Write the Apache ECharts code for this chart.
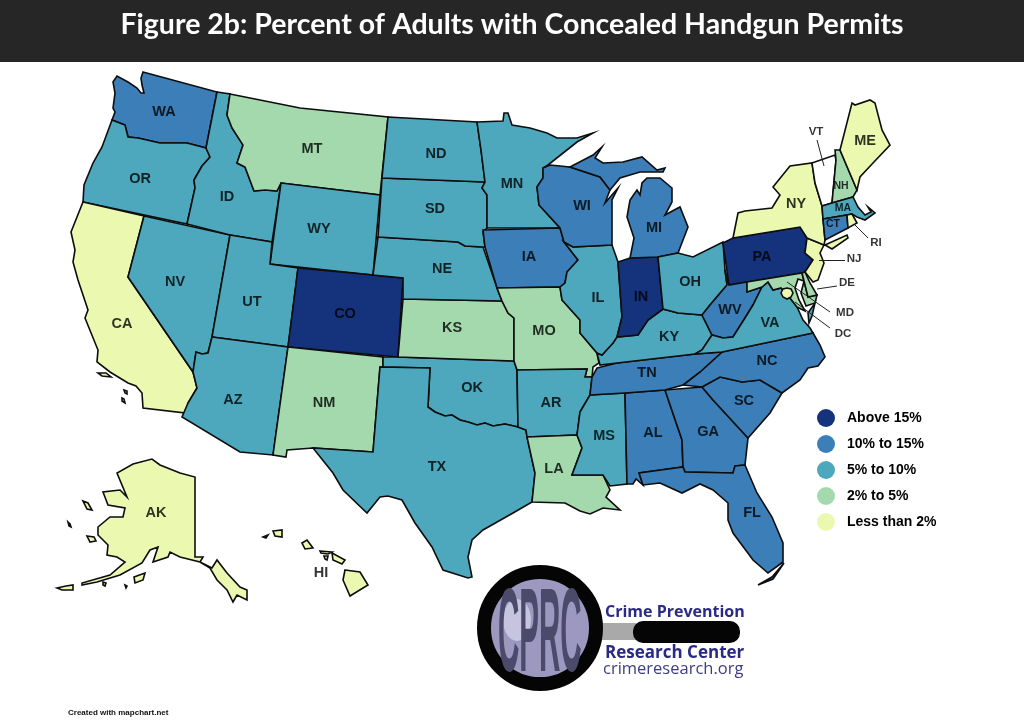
<!DOCTYPE html>
<html>
<head>
<meta charset="utf-8">
<style>html,body{margin:0;padding:0;background:#fff}#main{width:1024px;height:722px}</style>
<script src="https://cdn.jsdelivr.net/npm/echarts@6/dist/echarts.min.js"></script>
</head>
<body>
<div id="main"></div>
<script>
// permit classes
const above15 = ['CO', 'IN', 'PA'];
const from10to15 = ['WA', 'WI', 'IA', 'MI', 'WV', 'TN', 'NC', 'SC', 'GA', 'AL', 'FL', 'CT'];
const from5to10 = ['OR', 'ID', 'NV', 'UT', 'AZ', 'WY', 'ND', 'SD', 'NE', 'MN', 'OK', 'TX', 'AR', 'MS', 'IL', 'OH', 'KY', 'VA', 'MA'];
const from2to5 = ['MT', 'NM', 'KS', 'MO', 'LA', 'NH', 'MD', 'DE'];
const under2 = ['CA', 'AK', 'HI', 'NY', 'ME', 'NJ', 'RI', 'DC'];
const classLabels = ['Above 15%', '10% to 15%', '5% to 10%', '2% to 5%', 'Less than 2%'];
const classColors = ['#15327c', '#3b7eb8', '#4da8bd', '#a4d9ad', '#ebf8b0'];

// state outlines
const redRiver = [[518,427],[505,424],[493,426],[485,423],[477,425],[468,422],[460,420],[452,415],[445,416],[435,412],[428,407]];
const outlines = {
  WA: [[[143,72],[217,92],[206,148],[187,143],[160,143],[138,138],[128,137],[125,125],[112,120],[115,112],[113,108],[115,93],[113,82],[117,76],[128,82],[137,88],[141,93],[144,93],[142,85],[141,78]]],
  OR: [[[112,120],[125,125],[128,137],[138,138],[160,143],[187,143],[206,148],[210,157],[202,166],[194,180],[195,188],[187,224],[83,202],[84,185],[93,163],[102,147]]],
  CA: [[[83,202],[144,216],[128,277],[193,372],[197,388],[188,403],[186,413],[143,408],[142,393],[136,386],[128,383],[110,372],[97,362],[98,350],[85,318],[88,310],[78,280],[73,262],[75,250],[71,232]],
       [[98,373],[106,373],[111,377],[102,376]],[[124,390],[127,391],[127,394],[125,393]],[[122,398],[124,399],[125,403],[122,401]]],
  NV: [[[144,216],[230,235],[212,337],[208,353],[202,354],[196,352],[193,372],[128,277]]],
  ID: [[[217,92],[230,94],[227,115],[232,128],[243,145],[237,163],[245,167],[254,191],[265,190],[277,191],[281,183],[272,242],[230,235],[187,224],[195,188],[194,180],[202,166],[210,157],[206,148]]],
  MT: [[[230,94],[300,108],[388,117],[380,195],[281,183],[277,191],[265,190],[254,191],[245,167],[237,163],[243,145],[232,128],[227,115]]],
  WY: [[[281,183],[380,195],[373,275],[270,264]]],
  UT: [[[230,235],[272,242],[270,264],[298,268],[288,347],[212,337]]],
  CO: [[[298,268],[373,275],[403,278],[398,357],[288,347]]],
  AZ: [[[212,337],[288,347],[273,455],[240,452],[182,417],[188,403],[197,388],[193,372],[196,352],[202,354],[208,353]]],
  NM: [[[288,347],[383,357],[383,367],[380,367],[373,452],[313,448],[287,450],[286,457],[273,455]]],
  OK: [[[383,357],[398,357],[514,361],[517,370]].concat(redRiver, [[430,368],[383,367]])],
  TX: [[[380,367],[430,368]].concat(redRiver.slice().reverse(), [[526,430],[527,437],[535,473],[532,502],[513,513],[483,530],[472,540],[468,557],[472,577],[468,578],[443,570],[432,547],[415,523],[402,500],[388,496],[380,497],[367,513],[343,490],[333,473],[313,448],[373,452]])],
  KS: [[[403,299],[502,301],[508,313],[514,318],[514,361],[398,357]]],
  NE: [[[378,237],[458,242],[465,246],[483,247],[497,288],[502,301],[403,299],[403,278],[373,275]]],
  SD: [[[382,178],[485,182],[482,188],[487,195],[487,228],[483,232],[485,247],[483,247],[465,246],[458,242],[378,237]]],
  ND: [[[388,117],[477,122],[481,150],[485,182],[382,178]]],
  MN: [[[477,122],[503,121],[504,113],[508,113],[512,125],[530,128],[547,133],[557,138],[577,138],[593,133],[577,142],[548,165],[543,168],[543,178],[537,187],[539,205],[560,228],[487,228],[487,195],[482,188],[485,182],[481,150]]],
  IA: [[[483,230],[560,228],[564,242],[578,260],[567,272],[565,283],[560,287],[497,288],[485,247]]],
  MO: [[[497,288],[560,287],[562,300],[580,320],[580,333],[597,353],[599,363],[593,367],[592,377],[585,377],[587,369],[517,370],[514,361],[514,318],[508,313],[502,301]]],
  AR: [[[517,370],[587,369],[585,377],[592,377],[590,395],[580,412],[577,435],[527,437],[526,430],[518,427]]],
  LA: [[[527,437],[577,435],[582,448],[572,475],[603,475],[610,490],[606,497],[620,510],[603,508],[590,514],[580,511],[565,503],[532,502],[535,473]]],
  MS: [[[590,395],[625,393],[627,484],[610,486],[603,475],[572,475],[582,448],[577,435],[580,412]]],
  AL: [[[625,393],[665,390],[682,440],[683,467],[639,473],[643,485],[636,479],[633,484],[627,484]]],
  GA: [[[665,390],[702,387],[713,400],[748,438],[745,465],[735,466],[733,473],[685,472],[683,467],[682,440]]],
  FL: [[[639,473],[683,467],[685,472],[733,473],[735,466],[745,465],[757,493],[772,517],[783,543],[783,562],[768,573],[753,560],[733,533],[728,520],[728,503],[713,490],[700,484],[682,493],[660,483],[643,485]],
       [[784,563],[773,579],[758,585],[772,577]]],
  SC: [[[702,387],[720,377],[742,382],[760,380],[782,393],[770,413],[748,438],[713,400]]],
  NC: [[[722,352],[813,333],[820,345],[825,357],[818,366],[808,368],[800,380],[782,393],[760,380],[742,382],[720,377],[702,387],[683,385],[700,372]]],
  TN: [[[597,368],[617,363],[695,354],[722,352],[700,372],[683,385],[665,390],[625,393],[590,395],[592,377]]],
  KY: [[[663,309],[678,313],[702,315],[712,335],[702,350],[695,354],[617,363],[600,365],[597,353],[602,355],[613,343],[617,337],[638,335],[648,320]]],
  IL: [[[573,247],[612,245],[618,262],[622,317],[617,337],[613,343],[602,355],[597,353],[580,333],[580,320],[562,300],[560,287],[565,283],[567,272],[578,260],[564,242]]],
  IN: [[[618,262],[630,258],[658,257],[663,309],[648,320],[638,335],[617,337],[622,317]]],
  WI: [[[543,168],[550,165],[570,167],[600,177],[610,190],[605,203],[618,188],[612,200],[612,245],[573,247],[564,242],[560,228],[539,205],[537,187],[543,178]]],
  MI: [[[570,167],[593,155],[602,147],[595,158],[603,163],[623,162],[642,157],[657,170],[665,168],[663,172],[640,172],[620,178],[610,190],[600,177]],
       [[647,178],[660,178],[672,188],[672,202],[665,215],[680,207],[688,227],[678,253],[658,257],[630,258],[634,238],[627,217],[630,200],[637,190],[640,195],[642,183]]],
  OH: [[[658,257],[678,253],[693,257],[723,242],[725,270],[727,285],[710,305],[702,315],[678,313],[663,309]]],
  PA: [[[723,243],[733,238],[800,227],[807,238],[805,253],[813,260],[805,272],[802,273],[729,285]]],
  WV: [[[725,270],[729,285],[747,282],[747,292],[762,287],[753,305],[745,318],[733,337],[723,338],[712,335],[702,315],[710,305],[727,285]]],
  VA: [[[695,354],[702,350],[712,335],[723,338],[733,337],[745,318],[753,305],[762,287],[768,282],[773,290],[781,288],[790,298],[797,307],[803,320],[810,328],[813,333],[722,352]],
       [[815,303],[812,316],[809,323],[808,313]]],
  MD: [[[747,282],[802,273],[808,297],[817,295],[815,303],[806,306],[801,293],[804,281],[798,279],[795,288],[799,300],[805,311],[797,307],[790,298],[781,288],[773,290],[768,282],[762,287],[747,292]]],
  DE: [[[802,273],[805,272],[810,283],[817,295],[808,297]]],
  DC: [[[787,288],[791,289],[793,293],[791,297],[787,299],[783,297],[781,293],[783,289]]],
  NJ: [[[807,238],[824,245],[820,253],[824,263],[818,280],[813,282],[805,272],[813,260],[805,253]]],
  NY: [[[733,238],[738,213],[745,211],[772,208],[780,195],[773,187],[790,166],[812,163],[815,183],[822,206],[823,219],[825,240],[824,245],[807,238],[800,227]],
       [[825,245],[847,235],[848,238],[832,249]]],
  VT: [[[812,163],[835,155],[836,160],[832,203],[822,206],[815,183]]],
  NH: [[[835,150],[840,150],[857,190],[853,197],[832,203],[836,160]]],
  ME: [[[840,150],[852,103],[855,105],[870,100],[875,103],[882,130],[890,145],[873,163],[860,177],[857,190]]],
  MA: [[[822,206],[832,203],[853,197],[858,207],[865,215],[871,212],[868,207],[875,213],[865,220],[857,217],[852,214],[847,215],[823,219]]],
  CT: [[[823,219],[847,215],[848,228],[825,240]]],
  RI: [[[847,215],[852,214],[857,223],[848,228]]],
  AK: [[[195,477],[195,557],[203,557],[200,562],[212,568],[217,560],[227,573],[240,587],[247,590],[247,600],[237,595],[233,602],[227,590],[217,580],[210,568],[200,562],[180,557],[170,552],[168,557],[153,562],[158,547],[150,550],[142,563],[120,575],[97,582],[82,585],[82,583],[110,575],[125,562],[117,557],[107,555],[108,545],[98,535],[98,527],[110,517],[123,517],[125,508],[108,505],[103,492],[120,490],[127,497],[117,473],[133,464],[152,459],[160,465],[180,473]],
       [[83,501],[88,503],[92,510],[87,509]],[[87,536],[94,537],[96,541],[90,542]],[[134,577],[145,573],[143,580],[135,583]],[[57,588],[66,586],[73,585],[73,590],[62,590]],[[68,522],[70,524],[71,527],[69,526]],[[103,582],[106,583],[105,586],[103,585]],[[125,585],[127,586],[126,588]]],
  HI: [[[345,570],[360,572],[368,585],[350,596],[343,580]],[[332,553],[345,560],[342,564],[333,560]],[[320,551],[332,552],[328,554],[321,553]],[[324,556],[328,556],[327,560],[325,559]],[[302,543],[307,540],[313,548],[305,549]],[[273,531],[282,530],[282,537],[275,536]],[[263,537],[268,535],[266,538]]]
};

// label anchors on the map
const stateLabels = [['WA',164,112],['OR',140,179],['CA',122,324],['NV',175,282],['ID',227,197],['MT',312,149],['WY',319,229],['UT',252,302],['CO',345,314],['AZ',233,400],['NM',324,403],
  ['ND',436,154],['SD',435,209],['NE',442,269],['KS',452,328],['MN',512,184],['IA',529,257],['MO',544,331],['WI',582,206],['MI',654,228],['IL',598,298],['IN',641,297],['OH',690,282],['KY',669,337],
  ['OK',472,388],['AR',551,403],['TX',437,467],['LA',554,469],['MS',604,436],['AL',653,433],['GA',708,432],['SC',744,401],['TN',647,373],['NC',767,361],['FL',752,513],
  ['PA',762,257],['WV',730,310],['VA',770,323],['NY',796,204],['ME',865,141],['AK',156,513],['HI',321,573]];
const smallLabels = [['NH',841,186],['MA',843,208],['CT',833,224]];
const outsideLabels = [['VT',816,132],['RI',876,243],['NJ',854,259],['DE',847,283],['MD',845,313],['DC',843,334]];
const leaderLines = [[[817,140],[824,166]],[[855,225],[868,238]],[[819,260],[845,260]],[[817,289],[837,286]],[[787,282],[830,312]],[[795,302],[830,328]]];

const features = Object.keys(outlines).map(function (name) {
  return {
    type: 'Feature',
    properties: { name: name },
    geometry: {
      type: 'MultiPolygon',
      coordinates: outlines[name].map(function (ring) { return [ring.concat([ring[0]])]; })
    }
  };
});
echarts.registerMap('usa', { type: 'FeatureCollection', features: features });

const classes = [above15, from10to15, from5to10, from2to5, under2];
const mapData = [];
classes.forEach(function (states, i) {
  states.forEach(function (s) { mapData.push({ name: s, value: i }); });
});

function labelData(list) {
  return list.map(function (l) { return { name: l[0], value: [l[1], l[2]] }; });
}
function labelSeries(list, size) {
  return {
    type: 'scatter',
    coordinateSystem: 'geo',
    geoIndex: 0,
    symbolSize: 0,
    silent: true,
    z: 5,
    data: labelData(list),
    label: {
      show: true,
      position: 'inside',
      formatter: '{b}',
      color: '#000',
      textBorderWidth: 0,
      textBorderColor: 'transparent',
      fontFamily: 'Liberation Sans',
      fontWeight: 'bold',
      fontSize: size
    }
  };
}

var chartDom = document.getElementById('main');
var myChart = echarts.init(chartDom);
var option = {
  backgroundColor: '#fff',
  animation: false,
  geo: {
    map: 'usa',
    roam: false,
    silent: true,
    projection: {
      project: function (p) { return p; },
      unproject: function (p) { return p; }
    },
    boundingCoords: [[0, 0], [1024, 722]],
    left: 0,
    top: 0,
    width: 1024,
    height: 722,
    label: { show: false },
    itemStyle: { areaColor: '#fff', borderColor: '#0d0d0d', borderWidth: 1.6 },
    emphasis: { disabled: true }
  },
  visualMap: {
    type: 'piecewise',
    seriesIndex: 0,
    orient: 'vertical',
    align: 'left',
    left: 802,
    top: 394,
    itemWidth: 18,
    itemHeight: 18,
    itemGap: 8,
    textGap: 12,
    itemSymbol: 'circle',
    selectedMode: false,
    showLabel: true,
    inverse: true,
    pieces: classLabels.map(function (label, i) {
      return { value: i, label: label, color: classColors[i] };
    }),
    textStyle: { color: '#000', fontFamily: 'Liberation Sans', fontWeight: 'bold', fontSize: 14 }
  },
  series: [
    { type: 'map', geoIndex: 0, data: mapData },
    labelSeries(stateLabels, 14.5),
    labelSeries(smallLabels, 10.5),
    labelSeries(outsideLabels, 11.5),
    {
      type: 'lines',
      coordinateSystem: 'geo',
      geoIndex: 0,
      silent: true,
      z: 4,
      data: leaderLines.map(function (c) { return { coords: c }; }),
      lineStyle: { color: '#222', width: 1, opacity: 1, curveness: 0 }
    }
  ],
  graphic: [
    { type: 'rect', z: 10, shape: { x: 0, y: 0, width: 1024, height: 62 }, style: { fill: '#262626' } },
    { type: 'text', z: 11, x: 512, y: 25, style: { text: 'Figure 2b: Percent of Adults with Concealed Handgun Permits', fill: '#fff', font: 'bold 28.5px Lato', textAlign: 'center', textVerticalAlign: 'middle' } },
    { type: 'text', z: 11, x: 68, y: 713, style: { text: 'Created with mapchart.net', fill: '#111', font: 'bold 8px "Liberation Sans"', textVerticalAlign: 'middle' } },
    // CPRC logo
    { type: 'rect', z: 10, shape: { x: 600, y: 623, width: 36, height: 17 }, style: { fill: '#a9a9a9' } },
    { type: 'rect', z: 10, shape: { x: 633, y: 621, width: 107, height: 22, r: 10 }, style: { fill: '#050505' } },
    { type: 'circle', z: 11, shape: { cx: 540, cy: 628, r: 56 }, style: { fill: '#9c98c0', stroke: '#050505', lineWidth: 14 } },
    { type: 'ellipse', z: 11, shape: { cx: 517, cy: 620, rx: 14, ry: 21 }, style: { fill: '#c6c4de' } },
    { type: 'text', z: 12, x: 498, y: 638, scaleX: 0.25, style: { text: 'CPRC', fill: '#4b4a6b', font: 'bold 118px "Liberation Sans"', textVerticalAlign: 'middle' } },
    { type: 'text', z: 12, x: 605, y: 612, style: { text: 'Crime Prevention', fill: '#2a2a86', font: 'bold 16px "Open Sans"', textVerticalAlign: 'middle' } },
    { type: 'text', z: 12, x: 605, y: 653, style: { text: 'Research Center', fill: '#2a2a86', font: 'bold 17px "Open Sans"', textVerticalAlign: 'middle' } },
    { type: 'text', z: 12, x: 603, y: 669, style: { text: 'crimeresearch.org', fill: '#3d3d80', font: '16.5px "Open Sans"', textVerticalAlign: 'middle' } }
  ]
};
option && myChart.setOption(option);
</script>
</body>
</html>
